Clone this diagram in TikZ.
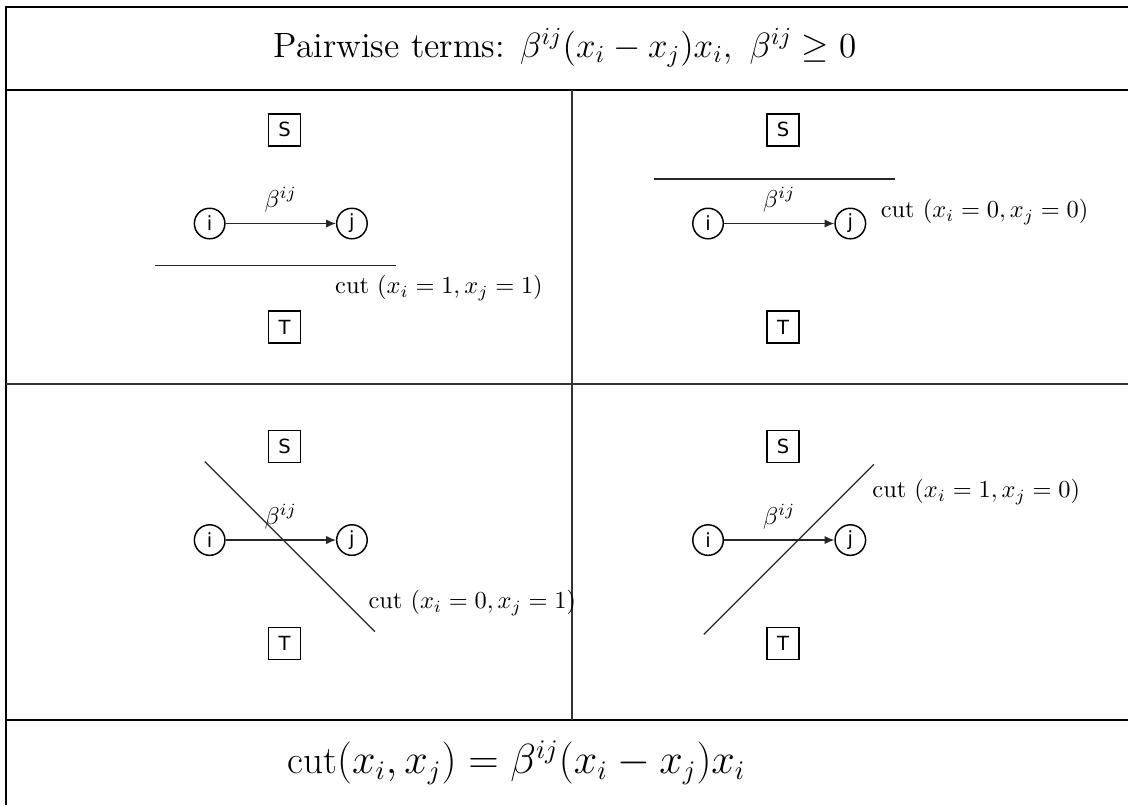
\documentclass[tikz,border=0pt]{standalone}
\usepackage{amsmath}
\usepackage{fontspec}
\newfontfamily\nodofont{DejaVu Sans}
\usetikzlibrary{calc,arrows.meta}

\begin{document}
\begin{tikzpicture}[line width=0.5pt,>={Latex[length=1.4mm,width=1.2mm]},
  term/.style={draw,line width=0.6pt,minimum size=0.46cm,inner sep=0pt,font=\nodofont\footnotesize},
  var/.style={draw,circle,line width=0.6pt,minimum size=0.44cm,inner sep=0pt,font=\nodofont\footnotesize},
  corte/.style={black!85,line width=0.5pt},
  marco/.style={black,line width=1pt},
  div/.style={black!80,line width=0.6pt}]
  \useasboundingbox (0,0) rectangle (16.25,-11.6);
  % marco de la tabla
  \draw[marco] (16.25,-0.10) -- (0.09,-0.10) -- (0.09,-11.6);
  \draw[marco] (0.09,-1.30) -- (16.25,-1.30);
  \draw[marco] (0.09,-10.37) -- (16.25,-10.37);
  \draw[div] (0.09,-5.53) -- (16.25,-5.53);
  \draw[div] (8.24,-1.30) -- (8.24,-10.37);
  \node (titulo) at (8.14,-0.69) {\Large Pairwise terms: $\beta^{ij}(x_i-x_j)x_i,\ \beta^{ij}\geq 0$};
  \node (energia) at (7.44,-10.99) {\fontsize{16}{19}\selectfont $\mathrm{cut}(x_i,x_j)=\beta^{ij}(x_i-x_j)x_i$};
  % los cuatro grafos S, i, j, T
  \foreach \p/\x/\y in {a/4.10/-1.87,b/11.28/-1.87,c/4.10/-6.43,d/11.28/-6.43}{
    \node[term] (s\p) at (\x,\y) {S};
    \node[var] (i\p) at ($(s\p)+(-1.08,-1.35)$) {i};
    \node[var] (j\p) at ($(s\p)+(0.97,-1.35)$) {j};
    \node[term] (t\p) at ($(s\p)+(0,-2.84)$) {T};
    \draw[->,black!85,line width=0.6pt] (i\p) -- node[above=1pt,black] (b\p) {$\beta^{ij}$} (j\p);
  }
  % cortes
  \draw[corte] ($(sa)+(-1.86,-1.95)$) -- ($(sa)+(1.61,-1.95)$);
  \node[anchor=west,inner sep=0pt] (ca) at ($(sa)+(0.72,-2.28)$) {cut $(x_i=1,x_j=1)$};
  \draw[corte] ($(sb)+(-1.86,-0.71)$) -- ($(sb)+(1.61,-0.71)$);
  \node[anchor=west,inner sep=0pt] (cb) at ($(sb)+(1.40,-1.18)$) {cut $(x_i=0,x_j=0)$};
  \draw[corte] ($(sc)+(-1.15,-0.22)$) -- ($(sc)+(1.30,-2.67)$);
  \node[anchor=west,inner sep=0pt] (cc) at ($(sc)+(1.20,-2.26)$) {cut $(x_i=0,x_j=1)$};
  \draw[corte] ($(sd)+(-1.14,-2.71)$) -- ($(sd)+(1.31,-0.26)$);
  \node[anchor=west,inner sep=0pt] (cd) at ($(sd)+(1.28,-0.66)$) {cut $(x_i=1,x_j=0)$};
\end{tikzpicture}
\end{document}
